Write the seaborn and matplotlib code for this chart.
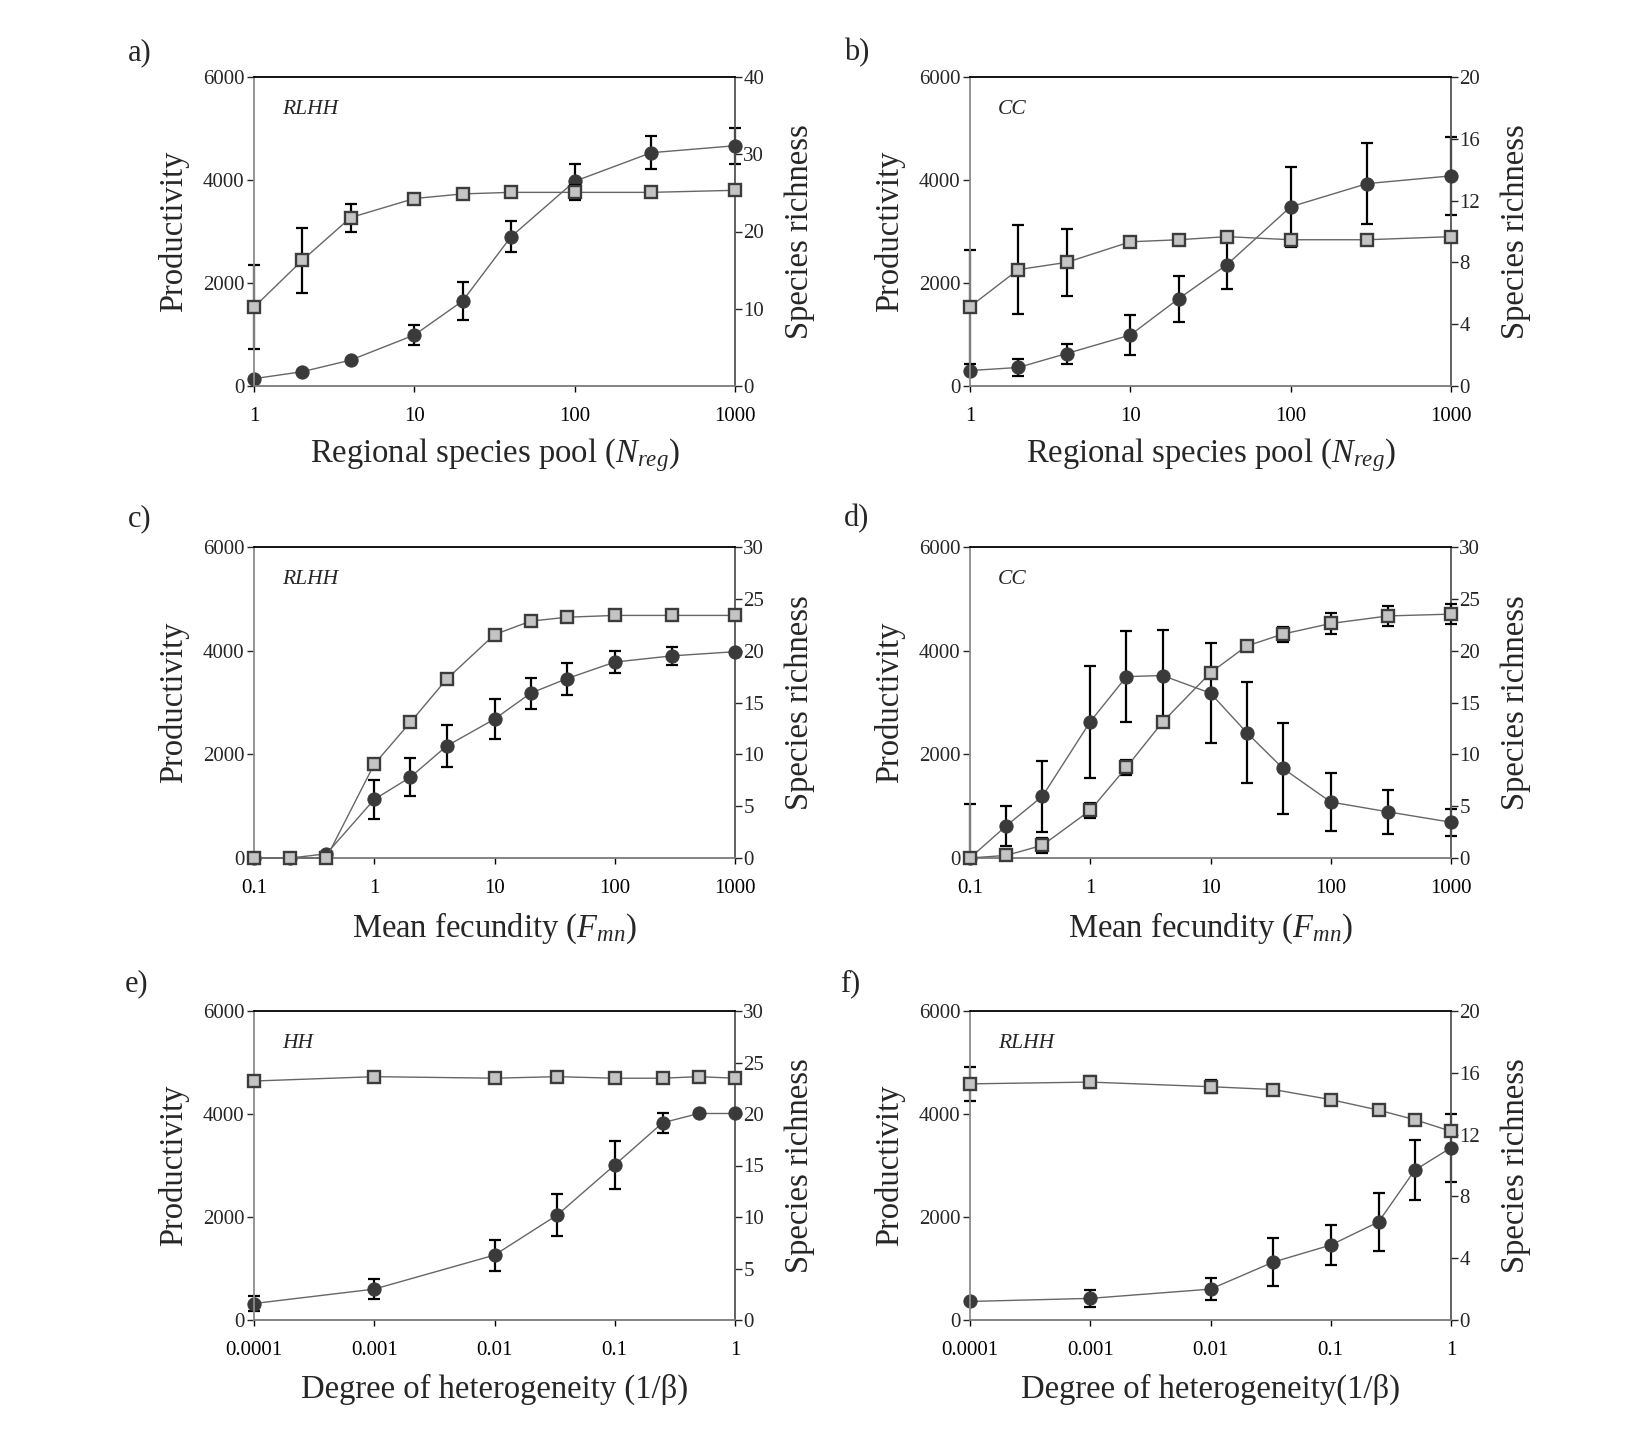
import numpy as np
import pandas as pd
import matplotlib
matplotlib.use("Agg")
import matplotlib.pyplot as plt
import seaborn as sns

# x values of the three experiments
x_pool = [1, 2, 4, 10, 20, 40, 100, 300, 1000]
x_fec = [0.1, 0.2, 0.4, 1, 2, 4, 10, 20, 40, 100, 300, 1000]
x_het = [0.0001, 0.001, 0.01, 0.0333, 0.1, 0.25, 0.5, 1]

# a) RLHH, regional pool
a_prod = [1530, 2440, 3270, 3640, 3730, 3760, 3760, 3760, 3800]
a_prod_err = [815, 630, 270, 0, 0, 0, 150, 0, 0]
a_rich = [0.95, 1.85, 3.35, 6.6, 11.0, 19.3, 26.5, 30.2, 31.1]
a_rich_err = [0, 0, 0, 1.35, 2.5, 2.0, 2.3, 2.1, 2.3]

# b) CC, regional pool
b_prod = [1540, 2260, 2400, 2800, 2840, 2900, 2840, 2840, 2900]
b_prod_err = [1110, 870, 650, 0, 0, 0, 80, 0, 0]
b_rich = [1.0, 1.2, 2.1, 3.3, 5.65, 7.85, 11.6, 13.1, 13.6]
b_rich_err = [0, 0.55, 0.65, 1.3, 1.5, 1.6, 2.6, 2.6, 2.5]

# c) RLHH, mean fecundity
c_prod = [0, 0, 0, 1810, 2620, 3450, 4310, 4570, 4645, 4680, 4680, 4680]
c_prod_err = [0] * 12
c_rich = [0, 0, 0.4, 5.65, 7.8, 10.8, 13.4, 15.9, 17.3, 18.9, 19.5, 19.9]
c_rich_err = [0, 0, 0, 1.9, 1.8, 2.0, 1.95, 1.5, 1.55, 1.1, 0.9, 0]

# d) CC, mean fecundity
d_prod = [0, 50, 245, 920, 1750, 2625, 3575, 4090, 4320, 4525, 4670, 4705]
d_prod_err = [0, 0, 150, 140, 150, 0, 0, 0, 145, 200, 190, 200]
d_rich = [0, 3.1, 5.95, 13.15, 17.5, 17.6, 15.9, 12.1, 8.65, 5.4, 4.45, 3.45]
d_rich_err = [5.2, 1.9, 3.4, 5.4, 4.4, 4.4, 4.8, 4.9, 4.4, 2.8, 2.1, 1.3]

# e) HH, heterogeneity
e_prod = [4640, 4725, 4695, 4725, 4695, 4695, 4725, 4695]
e_prod_err = [0] * 8
e_rich = [1.6, 3.0, 6.3, 10.2, 15.05, 19.15, 20.05, 20.05]
e_rich_err = [0.7, 1.0, 1.5, 2.05, 2.3, 0.95, 0, 0]

# f) RLHH, heterogeneity
f_prod = [4585, 4620, 4530, 4475, 4280, 4075, 3890, 3665]
f_prod_err = [330, 120, 125, 0, 0, 0, 0, 0]
f_rich = [1.2, 1.4, 2.0, 3.75, 4.85, 6.35, 9.7, 11.15]
f_rich_err = [0, 0.55, 0.7, 1.55, 1.3, 1.9, 1.95, 2.2]

xlabel_pool = r"Regional species pool ($N_{reg}$)"
xlabel_fec = r"Mean fecundity ($F_{mn}$)"
xticks_pool = [1, 10, 100, 1000]
xticks_fec = [0.1, 1, 10, 100, 1000]
xticks_het = [0.0001, 0.001, 0.01, 0.1, 1]

sns.set_theme(style="ticks")
plt.rcParams["font.family"] = ["Liberation Serif", "DejaVu Serif"]
plt.rcParams["mathtext.fontset"] = "custom"
plt.rcParams["mathtext.rm"] = "Liberation Serif"
plt.rcParams["mathtext.it"] = "Liberation Serif:italic"

fig = plt.figure(figsize=(16.32, 14.4), dpi=100)

W = 481 / 1632
H = 309 / 1440
pos = {
    "a": [254 / 1632, 1 - 386 / 1440, W, H],
    "b": [970 / 1632, 1 - 386 / 1440, W, H],
    "c": [254 / 1632, 1 - 858 / 1440, W, 311 / 1440],
    "d": [970 / 1632, 1 - 858 / 1440, W, 311 / 1440],
    "e": [254 / 1632, 1 - 1320 / 1440, W, H],
    "f": [970 / 1632, 1 - 1320 / 1440, W, H],
}

LINE = "#666666"
TICK_FS = 15
LABEL_FS = 23.5


def err_bars(ax, x, y, err):
    # error bars are cut at zero, as in the original figure
    x, y, err = np.array(x), np.array(y), np.array(err)
    m = err > 0
    lower = np.minimum(err[m], y[m])
    ax.errorbar(x[m], y[m], yerr=[lower, err[m]], fmt="none",
                ecolor="black", elinewidth=1.6, capsize=4.5, capthick=1.6,
                zorder=1, clip_on=False)


def panel(key, x, prod, prod_err, rich, rich_err, rmax, rstep, xticks,
          xlabel, tag):
    ax = fig.add_axes(pos[key])
    ax2 = ax.twinx()
    ax.set_xscale("log")
    ax.set_zorder(2)
    ax2.set_zorder(1)
    ax.patch.set_visible(False)

    # species richness (circles, right axis)
    err_bars(ax2, x, rich, rich_err)
    sns.lineplot(data=pd.DataFrame({"x": x, "y": rich}), x="x", y="y",
                 ax=ax2, color=LINE, linewidth=1.0, marker="o",
                 markersize=9.5, markerfacecolor="#3a3a3a",
                 markeredgecolor="#3a3a3a", zorder=3, clip_on=False)

    # productivity (squares, left axis)
    err_bars(ax, x, prod, prod_err)
    sns.lineplot(data=pd.DataFrame({"x": x, "y": prod}), x="x", y="y",
                 ax=ax, color=LINE, linewidth=1.0, marker="s",
                 markersize=8.5, markerfacecolor="#c4c4c4",
                 markeredgecolor="#3c3c3c", markeredgewidth=1.7, zorder=3,
                 clip_on=False)

    ax.set_xlim(x[0], x[-1])
    ax.set_ylim(0, 6000)
    ax2.set_ylim(0, rmax)
    ax.set_yticks([0, 2000, 4000, 6000])
    ax2.set_yticks(np.arange(0, rmax + 0.1, rstep))
    ax.set_xticks(xticks)
    ax.set_xticklabels([f"{t:g}" if t >= 0.001 else "0.0001" for t in xticks])
    ax.minorticks_off()
    ax2.minorticks_off()
    for a in (ax, ax2):
        a.set_xlabel("")
        a.set_ylabel("")

    ax.tick_params(axis="x", direction="out", length=4, width=1,
                   pad=11, labelsize=TICK_FS, colors="black")
    ax.tick_params(axis="y", direction="out", length=5, width=1,
                   pad=2, labelsize=TICK_FS)
    ax2.tick_params(axis="y", direction="out", length=5, width=1,
                    pad=1, labelsize=TICK_FS)

    for s in ("top", "right", "left", "bottom"):
        ax2.spines[s].set_visible(s == "right")
    ax.spines["right"].set_visible(False)
    ax.spines["top"].set_color("black")
    ax.spines["left"].set_color("#8c8c8c")
    ax.spines["bottom"].set_color("#7a7a7a")
    ax2.spines["right"].set_color("#555555")
    for s in ax.spines.values():
        s.set_linewidth(1.3)
    ax2.spines["right"].set_linewidth(1.3)

    ax.text(-0.168, 0.5, "Productivity", transform=ax.transAxes,
            rotation=90, ha="center", va="center", fontsize=LABEL_FS)
    ax.text(1.135, 0.5, "Species richness", transform=ax.transAxes,
            rotation=90, ha="center", va="center", fontsize=LABEL_FS)
    ax.text(0.5, -0.225, xlabel, transform=ax.transAxes,
            ha="center", va="center", fontsize=LABEL_FS)
    ax.text(0.058, 0.895, tag, transform=ax.transAxes, ha="left",
            va="center", fontsize=15.5, style="italic")
    return ax


panel("a", x_pool, a_prod, a_prod_err, a_rich, a_rich_err, 40, 10,
      xticks_pool, xlabel_pool, "RLHH")
panel("b", x_pool, b_prod, b_prod_err, b_rich, b_rich_err, 20, 4,
      xticks_pool, xlabel_pool, "CC")
panel("c", x_fec, c_prod, c_prod_err, c_rich, c_rich_err, 30, 5,
      xticks_fec, xlabel_fec, "RLHH")
panel("d", x_fec, d_prod, d_prod_err, d_rich, d_rich_err, 30, 5,
      xticks_fec, xlabel_fec, "CC")
panel("e", x_het, e_prod, e_prod_err, e_rich, e_rich_err, 30, 5,
      xticks_het, "Degree of heterogeneity (1/\u03b2)", "HH")
panel("f", x_het, f_prod, f_prod_err, f_rich, f_rich_err, 20, 4,
      xticks_het, "Degree of heterogeneity(1/\u03b2)", "RLHH")

for lab, px, py in [("a)", 128, 53), ("b)", 844, 53), ("c)", 128, 519),
                    ("d)", 844, 519), ("e)", 125, 984), ("f)", 840, 984)]:
    fig.text(px / 1632, 1 - py / 1440, lab, ha="left", va="center",
             fontsize=22)

fig.savefig("out.png", dpi=100)
